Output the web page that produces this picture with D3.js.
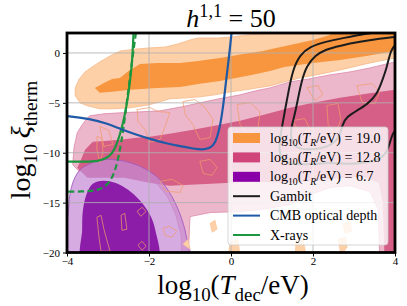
<!DOCTYPE html>
<html>
<head>
<meta charset="utf-8">
<script src="https://cdn.jsdelivr.net/npm/d3@7"></script>
<style>
body { margin: 0; background: #fff; }
svg text { font-family: "Liberation Serif", "DejaVu Serif", serif; fill: #000; }
</style>
</head>
<body>
<svg id="chart" width="407" height="306"></svg>
<script>
// Axis ticks
const xTicks = [-4, -2, 0, 2, 4];
const yTicks = [0, -5, -10, -15, -20];

// Filled contour regions, [log10 Tdec, log10 xi]
const orangeOuter = [[-3.8,-3.5],[-3.7,-2.6],[-3.56,-1.9],[-3.35,-1.3],[-3.2,-0.9],[-2.95,-0.3],[-2.7,0.2],[-2.3,0.4],[-2.0,0.5],[-1.6,0.6],[-1.3,0.9],[-1.0,1.3],[-0.8,1.5],[-0.3,1.5],[0,1.6],[0.4,1.8],[0.7,1.9],[1.0,2.1],[1.5,2.6],[4.5,2.6],[4.5,-0.5],[4,-0.5],[3.39,-1.0],[2.66,-1.7],[2.2,-2.1],[1.68,-2.5],[1.3,-2.9],[0.95,-3.3],[0.5,-3.6],[0,-3.9],[-0.4,-4.2],[-0.76,-4.4],[-1.1,-4.5],[-1.49,-4.6],[-2.0,-5.2],[-2.46,-5.5],[-2.9,-5.6],[-3.2,-5.6],[-3.5,-5.3],[-3.68,-5.0],[-3.8,-4.3]];
const orangeInner = [[-3.32,-3.5],[-3.1,-3.0],[-2.9,-2.6],[-2.71,-2.5],[-2.5,-1.8],[-2.22,-1.1],[-1.8,-1.0],[-1.24,-1.0],[-0.8,-0.8],[-0.27,-0.5],[0.3,-0.1],[0.78,0.2],[1.1,0.5],[1.44,0.8],[2.0,1.3],[2.41,1.8],[2.7,2.6],[4.5,2.6],[4.5,0.2],[4,0.2],[3.3,-0.3],[2.66,-0.7],[2.0,-1.0],[1.3,-1.4],[0.95,-1.8],[0.5,-2.2],[-0.27,-2.8],[-0.8,-3.1],[-1.24,-3.4],[-1.8,-3.5],[-2.46,-3.7],[-2.9,-3.9],[-3.2,-4.0]];
const pinkOuter = [[-3.63,-7.2],[-3.5,-6.5],[-3.44,-6.3],[-3.1,-6.1],[-2.71,-6.0],[-2.2,-5.9],[-1.73,-5.8],[-1.2,-5.4],[-0.76,-5.0],[-0.3,-4.6],[0.22,-4.2],[0.6,-3.8],[0.95,-3.5],[1.44,-2.9],[1.9,-2.6],[2.41,-2.2],[2.9,-1.9],[3.39,-1.5],[4,-0.9],[4.5,-0.9],[4.5,-21],[3.63,-21],[3.59,-15.7],[3.39,-13.9],[2.9,-13.3],[2.41,-13.5],[1.93,-14.2],[1.44,-15.2],[0.71,-15.7],[0.22,-15.9],[-0.51,-16.0],[-1.0,-16.4],[-1.05,-21],[-1.2,-21],[-1.22,-18.2],[-1.35,-16.2],[-1.55,-14.4],[-1.85,-12.9],[-2.2,-11.9],[-2.5,-11.3],[-2.85,-11.0],[-3.2,-11.0],[-3.45,-11.3],[-3.7,-11.9],[-3.86,-11.2],[-3.83,-9.5],[-3.75,-8.0]];
const pinkInner = [[-3.37,-8.9],[-3.0,-8.8],[-2.71,-8.7],[-2.3,-8.5],[-1.98,-8.4],[-1.5,-8.1],[-0.93,-7.7],[-0.4,-7.3],[0.22,-6.8],[0.8,-6.2],[1.44,-5.5],[2.0,-5.0],[2.66,-4.5],[3.3,-4.1],[4,-3.7],[4.5,-3.7],[4.5,-21],[3.75,-21],[3.7,-15],[3.6,-13.0],[3.2,-12.4],[2.5,-12.6],[1.5,-13.0],[0.5,-12.9],[-0.5,-13.1],[-1.5,-13.3],[-2.0,-13.0],[-2.6,-12.5],[-3.5,-12.5],[-3.75,-11.5],[-3.68,-10.9],[-3.56,-9.7]];
const purpleOuter = [[-4.2,-21],[-3.98,-16.4],[-3.93,-14.2],[-3.83,-12.7],[-3.68,-11.7],[-3.44,-11.1],[-3.2,-10.75],[-2.83,-10.7],[-2.46,-11.0],[-2.1,-11.6],[-1.73,-12.7],[-1.44,-14.4],[-1.24,-16.2],[-1.1,-18.2],[-1.05,-21]];
const purpleInner = [[-3.61,-21],[-3.63,-17.7],[-3.61,-15.7],[-3.51,-14.0],[-3.37,-13.1],[-3.12,-12.8],[-2.83,-13.0],[-2.51,-13.7],[-2.22,-14.8],[-1.98,-16.2],[-1.85,-17.7],[-1.8,-21]];

// Small islands of the outer orange level in the empty corner
const orangeIslands = [
  [[-0.51,-17.07],[-0.39,-16.77],[-0.34,-17.67],[-0.46,-17.97]],
  [[-0.02,-18.97],[0.17,-18.67],[0.22,-20.3],[-0.07,-20.3]],
  [[1.59,-18.87],[1.76,-18.67],[1.83,-20.3],[1.56,-20.3]],
  [[2.61,-18.67],[2.8,-18.47],[2.83,-19.47],[2.68,-20.3]],
  [[2.73,-17.17],[2.9,-16.87],[2.95,-17.87],[2.78,-18.07]],
  [[-1.17,-19.17],[-1.05,-18.67],[-1.0,-19.67]]
];
// Thin orange contour outlines
const orangeOutlines = [
  [[-3.27,-16.47],[-3.17,-16.27],[-3.1,-17.67],[-3.0,-19.17],[-2.95,-19.87],[-3.17,-19.87],[-3.22,-18.47]],
  [[-2.68,-16.27],[-2.59,-16.07],[-2.54,-17.67],[-2.66,-17.77]],
  [[-2.29,-15.87],[-2.17,-15.47],[-2.07,-15.87],[-2.2,-16.37]],
  [[-2.27,-19.27],[-2.17,-18.87],[-2.07,-19.37],[-2.17,-19.77]],
  [[-1.73,-12.87],[-1.44,-12.67],[-1.17,-13.27],[-1.24,-13.97],[-1.59,-13.87]],
  [[-1.66,-17.57],[-1.49,-17.37],[-1.32,-17.87],[-1.44,-18.47],[-1.61,-18.27]],
  [[-0.76,-10.87],[-0.51,-10.67],[-0.34,-11.47],[-0.46,-12.27],[-0.68,-12.07]],
  [[-3.27,-8.37],[-3.15,-8.57],[-3.12,-9.97],[-3.2,-10.97],[-3.27,-9.67]],
  [[-2.29,-5.67],[-1.98,-5.47],[-1.78,-5.87],[-1.49,-5.97],[-1.59,-7.17],[-1.73,-8.67],[-1.98,-8.97],[-2.1,-7.67],[-2.27,-6.87]],
  [[-1.17,-4.87],[-0.88,-4.67],[-0.63,-5.47],[-0.44,-6.67],[-0.51,-8.47],[-0.76,-8.67],[-0.93,-7.17],[-1.12,-6.17]],
  [[0.15,-5.17],[0.46,-4.97],[0.71,-5.87],[0.66,-7.47],[0.41,-8.17],[0.22,-7.17]],
  [[1.85,-3.47],[2.12,-3.27],[2.24,-4.17],[2.05,-4.77]],
  [[3.07,-3.27],[3.44,-3.07],[3.63,-3.87],[3.51,-5.07],[3.2,-4.97]],
  [[2.34,-5.27],[2.61,-5.07],[2.68,-6.67],[2.54,-8.17],[2.37,-7.17]],
  [[1.51,-6.77],[1.8,-6.57],[1.93,-7.67],[1.68,-8.27]],
  [[-3.2,-7.37],[-2.98,-7.77],[-2.88,-9.17],[-3.1,-9.37]]
];

// Constraint curves
const cmbDepth = [[-4.2,-6.3],[-4,-6.3],[-3.44,-6.6],[-3.0,-7.1],[-2.71,-7.6],[-2.3,-8.2],[-1.98,-8.6],[-1.6,-9.05],[-1.24,-9.35],[-0.9,-9.6],[-0.7,-9.7],[-0.5,-9.55],[-0.38,-9.0],[-0.29,-7.8],[-0.22,-6.2],[-0.16,-4.3],[-0.11,-2.4],[-0.06,-0.8],[0.0,1.5],[0.03,2.6]];
const xraySolid = [[-4.2,-10.9],[-3.5,-10.9],[-3.25,-10.85],[-3.05,-10.6],[-2.9,-10.1],[-2.8,-9.3],[-2.71,-8.2],[-2.6,-6.5],[-2.51,-4.4],[-2.44,-2.0],[-2.41,-0.9],[-2.37,2.6]];
const xrayDashed = [[-4.2,-13.9],[-3.6,-13.9],[-3.3,-13.8],[-3.1,-13.5],[-2.95,-12.9],[-2.82,-11.8],[-2.72,-10.0],[-2.63,-7.8],[-2.53,-4.6],[-2.42,-1.0],[-2.3,2.6]];
const gambitOuter = [[4.07,2.43],[3.63,2.13],[3.15,1.83],[2.78,1.53],[2.29,1.13],[1.93,0.63],[1.68,-0.17],[1.51,-1.67],[1.41,-3.67],[1.32,-5.67],[1.24,-7.47],[1.17,-9.17],[1.2,-10.67],[1.44,-11.17],[1.93,-11.17],[2.41,-10.97],[2.9,-11.17],[3.32,-10.97],[3.63,-10.67],[3.8,-9.97],[3.88,-8.97],[3.93,-8.17],[4.05,-7.47]];
const gambitInner = [[4.05,1.63],[3.63,1.43],[3.15,1.13],[2.66,0.73],[2.29,0.33],[2.05,-0.27],[1.85,-1.27],[1.73,-2.67],[1.63,-4.67],[1.54,-6.47],[1.44,-7.87],[1.49,-9.17],[1.68,-9.67],[2.05,-9.67],[2.41,-9.37],[2.66,-8.47],[2.71,-7.17],[2.83,-6.37],[3.07,-5.77],[3.32,-5.17],[3.56,-4.17],[3.68,-2.87],[3.8,-1.47],[3.85,-0.47],[3.93,0.53],[4.05,0.9]];

// Legend entries
const legendLabels = ["19.0", "12.8", "6.7"];
const legendLines = ["Gambit", "CMB optical depth", "X-rays"];

const colors = {
  orangeOuter: "#fdd0a7", orangeInner: "#f7963f",
  pinkOuter: "#ecb7cb", pinkInner: "#d55f87",
  purpleOuter: "#c58bd6", purpleInner: "#8b1da8",
  gambit: "#1c1c1c", cmb: "#1f5aa6", xray: "#1c963f"
};
const legendPatch = [colors.orangeInner, "#d0457a", "#8a00a8"];
const legendLineColor = [colors.gambit, colors.cmb, colors.xray];
const serif = "Liberation Serif, DejaVu Serif, serif";

const svg = d3.select("#chart");
const x = d3.scaleLinear().domain([-4, 4]).range([67, 395]);
const y = d3.scaleLinear().domain([-20, 2]).range([252.5, 33]);

svg.append("defs").append("clipPath").attr("id", "plotClip")
  .append("rect")
  .attr("x", x(-4)).attr("y", y(2))
  .attr("width", x(4) - x(-4)).attr("height", y(-20) - y(2));

const plot = svg.append("g").attr("clip-path", "url(#plotClip)");

const area = d3.line().x(d => x(d[0])).y(d => y(d[1])).curve(d3.curveLinearClosed);
const smoothArea = d3.line().x(d => x(d[0])).y(d => y(d[1])).curve(d3.curveCatmullRomClosed.alpha(0.5));
const curve = d3.line().x(d => x(d[0])).y(d => y(d[1])).curve(d3.curveBasis);

// fills
plot.append("path").attr("d", area(orangeOuter)).attr("fill", colors.orangeOuter)
  .attr("stroke", "#f6b788").attr("stroke-width", 0.8);
plot.append("path").attr("d", area(orangeInner)).attr("fill", colors.orangeInner);
plot.append("path").attr("d", area(pinkOuter)).attr("fill", colors.pinkOuter)
  .attr("stroke", "#dc88a8").attr("stroke-width", 0.8);
plot.append("path").attr("d", area(pinkInner)).attr("fill", colors.pinkInner);
plot.append("path").attr("d", smoothArea(purpleOuter)).attr("fill", colors.purpleOuter)
  .attr("fill-opacity", 0.72).attr("stroke", "#a45ac0").attr("stroke-width", 0.9);
plot.append("path").attr("d", smoothArea(purpleInner)).attr("fill", colors.purpleInner);

orangeIslands.forEach(p => {
  plot.append("path").attr("d", area(p)).attr("fill", colors.orangeOuter)
    .attr("stroke", "#f8c090").attr("stroke-width", 0.6);
});
orangeOutlines.forEach(p => {
  plot.append("path").attr("d", area(p)).attr("fill", "none")
    .attr("stroke", "#f29a6a").attr("stroke-width", 0.8).attr("stroke-opacity", 0.9);
});

// grid
plot.selectAll(".gx").data(xTicks).enter().append("line")
  .attr("x1", d => x(d)).attr("x2", d => x(d)).attr("y1", y(2)).attr("y2", y(-20))
  .attr("stroke", "#b0b0b0").attr("stroke-width", 1).attr("stroke-opacity", 0.85);
plot.selectAll(".gy").data(yTicks).enter().append("line")
  .attr("y1", d => y(d)).attr("y2", d => y(d)).attr("x1", x(-4)).attr("x2", x(4))
  .attr("stroke", "#b0b0b0").attr("stroke-width", 1).attr("stroke-opacity", 0.85);

// constraint lines
plot.append("path").attr("d", curve(xraySolid)).attr("fill", "none")
  .attr("stroke", colors.xray).attr("stroke-width", 2.2);
plot.append("path").attr("d", curve(xrayDashed)).attr("fill", "none")
  .attr("stroke", colors.xray).attr("stroke-width", 2.2).attr("stroke-dasharray", "6,3.5");
plot.append("path").attr("d", curve(cmbDepth)).attr("fill", "none")
  .attr("stroke", colors.cmb).attr("stroke-width", 2.2);
[gambitOuter, gambitInner].forEach(g => {
  plot.append("path").attr("d", curve(g)).attr("fill", "none")
    .attr("stroke", colors.gambit).attr("stroke-width", 2);
});

// frame
svg.append("rect")
  .attr("x", x(-4)).attr("y", y(2))
  .attr("width", x(4) - x(-4)).attr("height", y(-20) - y(2))
  .attr("fill", "none").attr("stroke", "#000").attr("stroke-width", 2.8);

// axes
const fmt = d3.format("");
const xAxis = svg.append("g").attr("transform", `translate(0,${y(-20)})`)
  .call(d3.axisBottom(x).tickValues(xTicks).tickSize(4).tickPadding(0.5).tickFormat(fmt));
const yAxis = svg.append("g").attr("transform", `translate(${x(-4)},0)`)
  .call(d3.axisLeft(y).tickValues(yTicks).tickSize(4).tickPadding(3).tickFormat(fmt));
[xAxis, yAxis].forEach(a => {
  a.select(".domain").remove();
  a.selectAll("line").attr("stroke", "#000").attr("stroke-width", 1);
  a.selectAll("text").attr("font-family", serif).attr("font-size", 11);
});

// rich text helper: parts are [text, kind] with kind in "", "it", "sub", "sup"
function rich(textSel, parts, size) {
  textSel.attr("font-family", serif).attr("font-size", size);
  let shift = 0;
  parts.forEach(([t, kind]) => {
    const target = kind.includes("sub") ? size * 0.25 : kind.includes("sup") ? -size * 0.4 : 0;
    const ts = textSel.append("tspan").attr("dy", target - shift).text(t);
    shift = target;
    if (kind.includes("sub") || kind.includes("sup")) ts.attr("font-size", size * 0.7);
    if (kind.includes("it")) ts.attr("font-style", "italic");
  });
  return textSel;
}

// legend
const lg = svg.append("g");
const lgX = 228, lgY = 127, lgRow = 19.4;
lg.append("rect").attr("x", lgX).attr("y", lgY).attr("width", 160).attr("height", 118)
  .attr("rx", 3).attr("fill", "#fff").attr("fill-opacity", 0.8)
  .attr("stroke", "#cccccc").attr("stroke-opacity", 0.8);
legendLabels.forEach((v, i) => {
  const cy = lgY + 11 + i * lgRow;
  lg.append("rect").attr("x", lgX + 5).attr("y", cy - 5).attr("width", 27).attr("height", 10)
    .attr("fill", legendPatch[i]);
  rich(lg.append("text").attr("x", lgX + 42).attr("y", cy + 4.5),
    [["log", ""], ["10", "sub"], ["(", ""], ["T", "it"], ["R", "it sub"], ["/eV) = " + v, ""]], 14);
});
legendLines.forEach((name, i) => {
  const cy = lgY + 11 + (i + 3) * lgRow;
  lg.append("line").attr("x1", lgX + 5).attr("x2", lgX + 32).attr("y1", cy).attr("y2", cy)
    .attr("stroke", legendLineColor[i]).attr("stroke-width", 2);
  lg.append("text").attr("x", lgX + 42).attr("y", cy + 4.5)
    .attr("font-family", serif).attr("font-size", 14).text(name);
});

// title and axis labels
rich(svg.append("text").attr("x", 231).attr("y", 27).attr("text-anchor", "middle"),
  [["h", "it"], ["1,1", "sup"], [" = 50", ""]], 26);
rich(svg.append("text").attr("x", 233).attr("y", 294).attr("text-anchor", "middle"),
  [["log", ""], ["10", "sub"], ["(", ""], ["T", "it"], ["dec", "sub"], ["/eV)", ""]], 27);
rich(svg.append("text").attr("transform", "translate(30,140) rotate(-90)").attr("text-anchor", "middle"),
  [["log", ""], ["10", "sub"], ["\u2009", ""], ["\u03be", "it"], ["therm", "sub"]], 28);
</script>
</body>
</html>
